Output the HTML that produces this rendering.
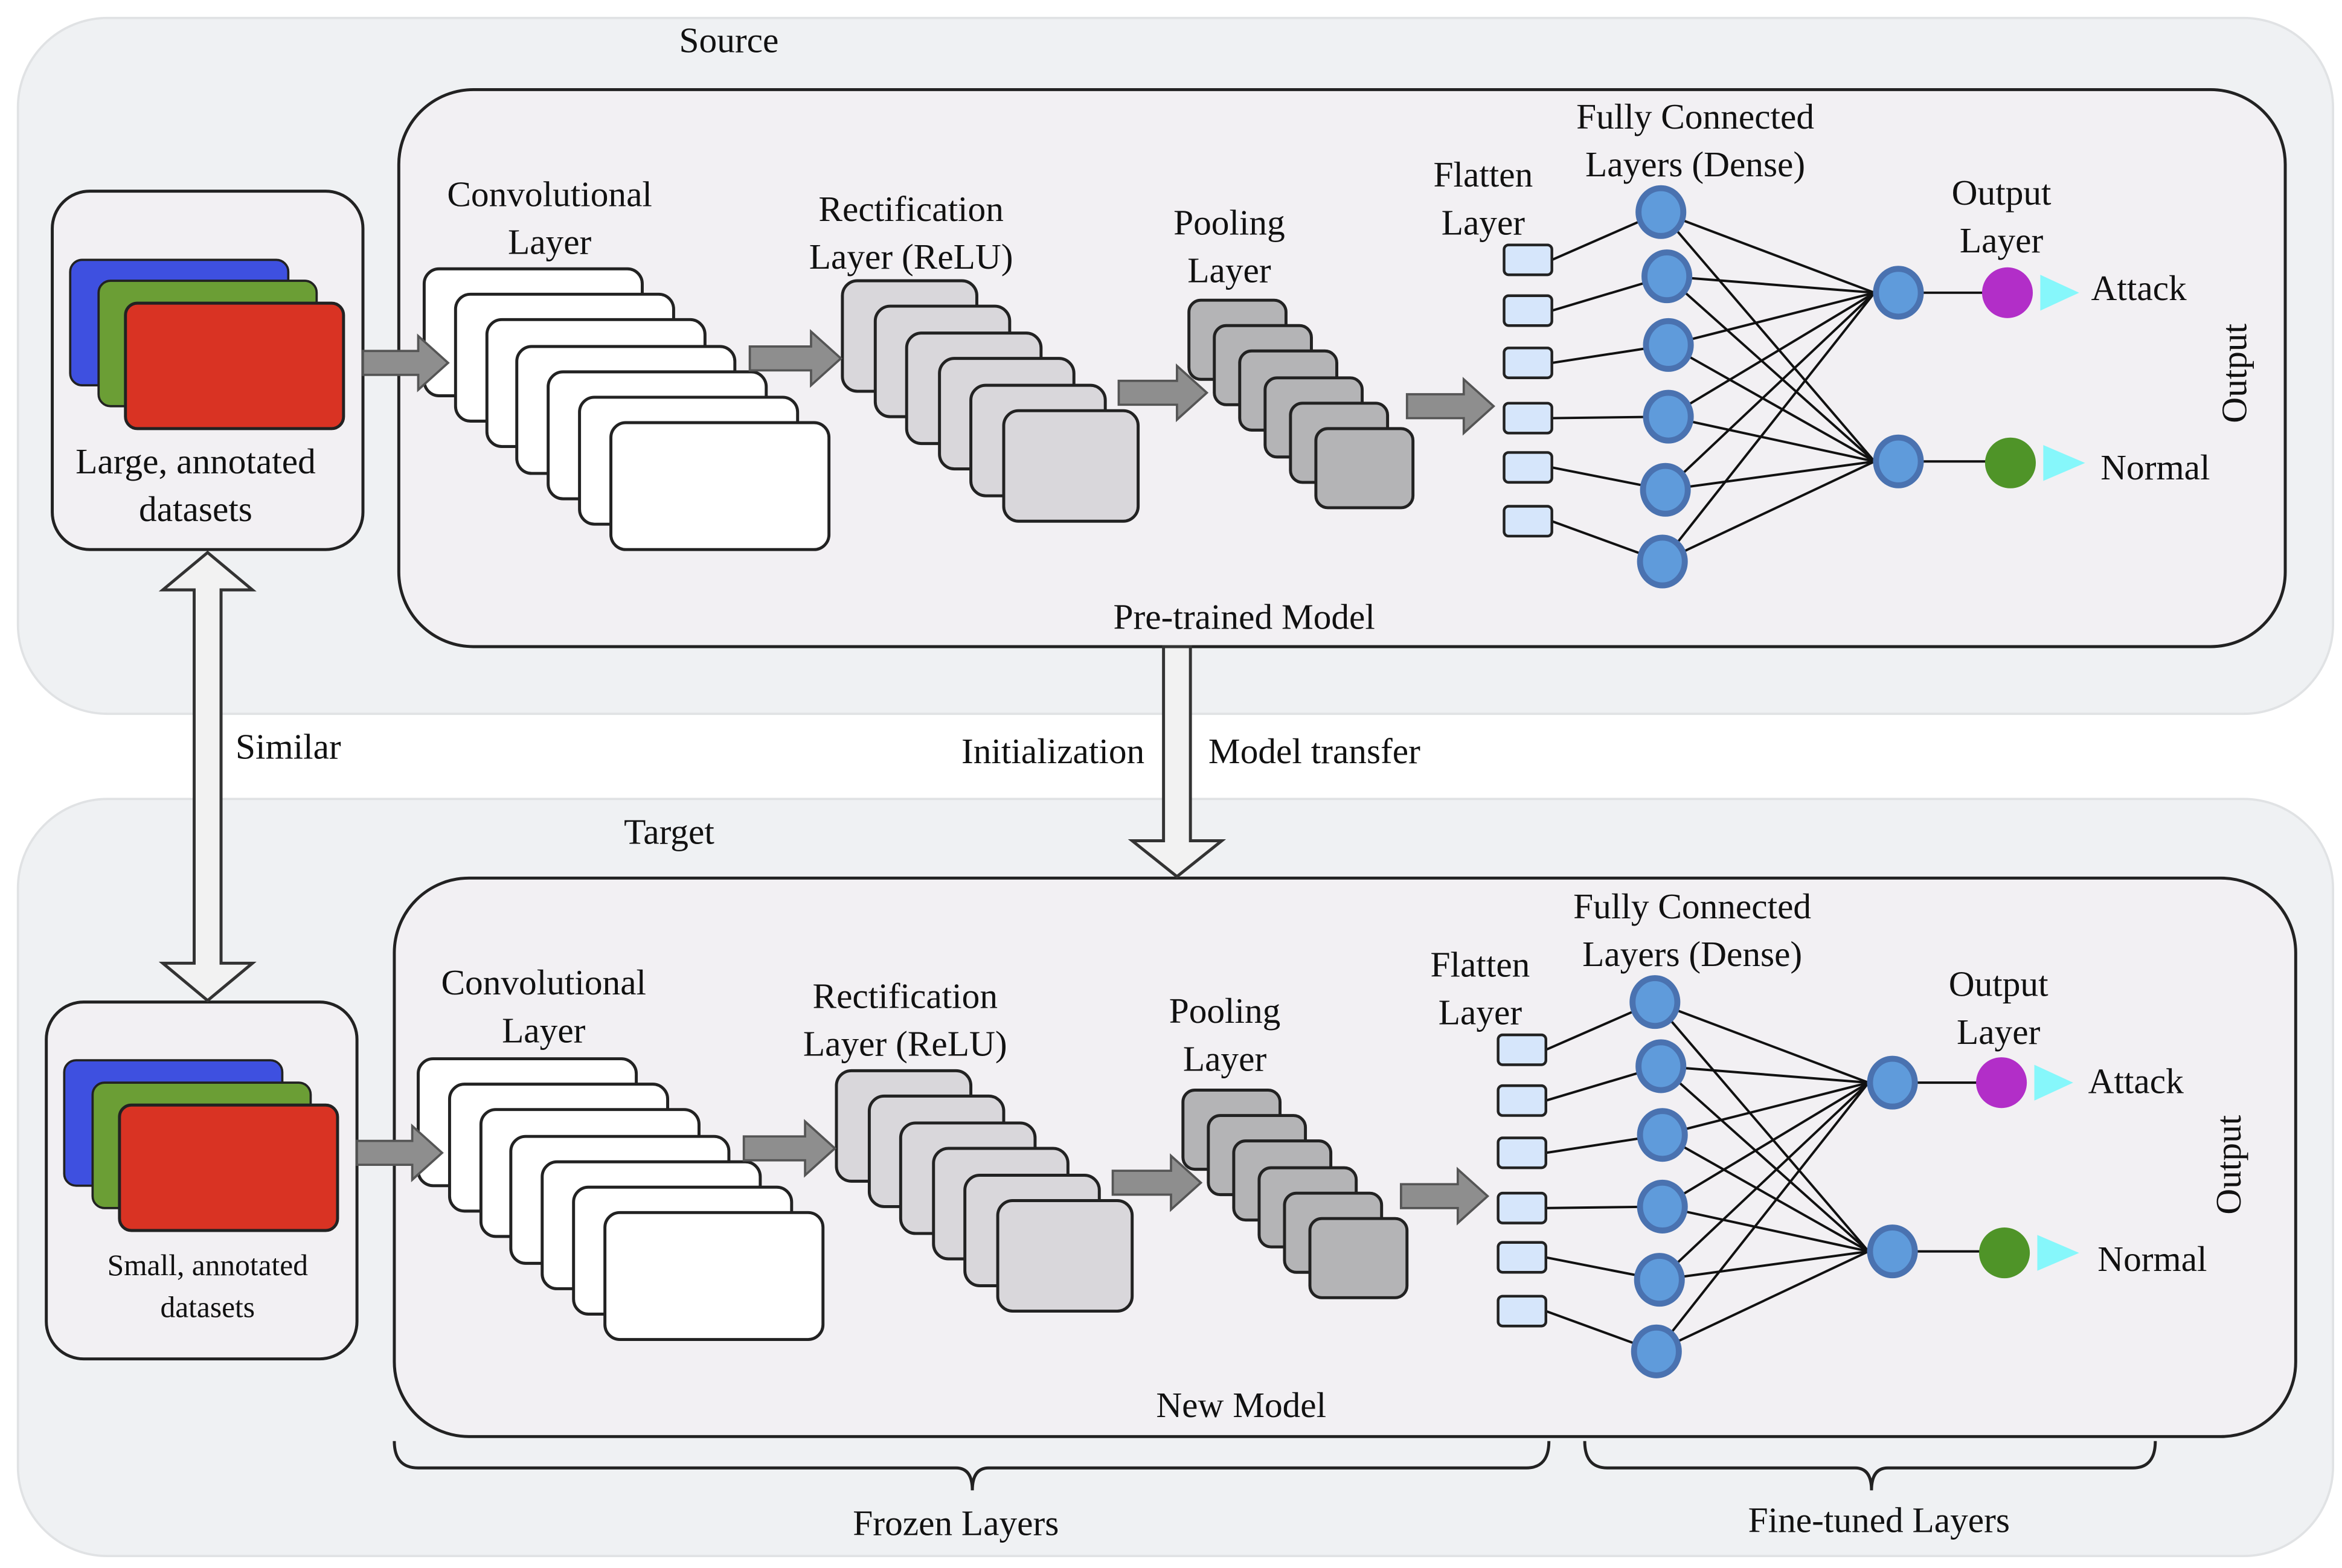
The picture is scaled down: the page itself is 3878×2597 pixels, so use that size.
<!DOCTYPE html>
<html><head><meta charset="utf-8"><style>
html,body{margin:0;padding:0;background:#fff}
svg{display:block}
svg text{font-family:"Liberation Serif","Times New Roman",serif !important;font-size:24px;fill:#111;text-anchor:middle}
</style></head><body>
<svg width="3878" height="2597" viewBox="0 0 1568 1050" xmlns="http://www.w3.org/2000/svg" font-family="Liberation Serif, serif">
<defs>
<g id="model">
  <g fill="#fff" stroke="#222" stroke-width="2">
    <rect x="284" y="180" width="146" height="85" rx="10"/>
    <rect x="305" y="197" width="146" height="85" rx="10"/>
    <rect x="326" y="214" width="146" height="85" rx="10"/>
    <rect x="346" y="232" width="146" height="85" rx="10"/>
    <rect x="367" y="249" width="146" height="85" rx="10"/>
    <rect x="388" y="266" width="146" height="85" rx="10"/>
    <rect x="409" y="283" width="146" height="85" rx="10"/>
  </g>
  <g fill="#d9d7db" stroke="#222" stroke-width="2">
    <rect x="564" y="188" width="90" height="74" rx="10"/>
    <rect x="586" y="205" width="90" height="74" rx="10"/>
    <rect x="607" y="223" width="90" height="74" rx="10"/>
    <rect x="629" y="240" width="90" height="74" rx="10"/>
    <rect x="650" y="258" width="90" height="74" rx="10"/>
    <rect x="672" y="275" width="90" height="74" rx="10"/>
  </g>
  <g fill="#b4b4b6" stroke="#222" stroke-width="2">
    <rect x="796" y="201" width="65" height="53" rx="8"/>
    <rect x="813" y="218" width="65" height="53" rx="8"/>
    <rect x="830" y="235" width="65" height="53" rx="8"/>
    <rect x="847" y="253" width="65" height="53" rx="8"/>
    <rect x="864" y="270" width="65" height="53" rx="8"/>
    <rect x="881" y="287" width="65" height="53" rx="8"/>
  </g>
  <g fill="#8e8e8e" stroke="#555" stroke-width="1.5">
    <polygon points="243,235 280,235 280,225 300,243 280,261 280,251 243,251"/>
    <polygon points="502,232 543,232 543,222 563,240 543,258 543,248 502,248"/>
    <polygon points="749,255 788,255 788,245 808,263 788,281 788,271 749,271"/>
    <polygon points="942,264 980,264 980,254 1000,272 980,290 980,280 942,280"/>
  </g>
  <g stroke="#111" stroke-width="1.6">
    <line x1="1039" y1="174" x2="1112" y2="142"/>
    <line x1="1039" y1="208" x2="1116" y2="185"/>
    <line x1="1039" y1="243" x2="1117" y2="231"/>
    <line x1="1039" y1="280" x2="1117" y2="279"/>
    <line x1="1039" y1="313" x2="1115" y2="328"/>
    <line x1="1039" y1="349" x2="1113" y2="376"/>
    <line x1="1112" y1="142" x2="1255" y2="196"/><line x1="1112" y1="142" x2="1255" y2="309"/>
    <line x1="1116" y1="185" x2="1255" y2="196"/><line x1="1116" y1="185" x2="1255" y2="309"/>
    <line x1="1117" y1="231" x2="1255" y2="196"/><line x1="1117" y1="231" x2="1255" y2="309"/>
    <line x1="1117" y1="279" x2="1255" y2="196"/><line x1="1117" y1="279" x2="1255" y2="309"/>
    <line x1="1115" y1="328" x2="1255" y2="196"/><line x1="1115" y1="328" x2="1255" y2="309"/>
    <line x1="1113" y1="376" x2="1255" y2="196"/><line x1="1113" y1="376" x2="1255" y2="309"/>
    <line x1="1287" y1="196" x2="1328" y2="196"/>
    <line x1="1287" y1="309" x2="1330" y2="309"/>
  </g>
  <g fill="#d6e6fb" stroke="#222" stroke-width="1.8">
    <rect x="1007" y="164" width="32" height="20" rx="3"/>
    <rect x="1007" y="198" width="32" height="20" rx="3"/>
    <rect x="1007" y="233" width="32" height="20" rx="3"/>
    <rect x="1007" y="270" width="32" height="20" rx="3"/>
    <rect x="1007" y="303" width="32" height="20" rx="3"/>
    <rect x="1007" y="339" width="32" height="20" rx="3"/>
  </g>
  <g fill="#5f9bdb" stroke="#4a72b0" stroke-width="4">
    <ellipse cx="1112" cy="142" rx="15" ry="16"/>
    <ellipse cx="1116" cy="185" rx="15" ry="16"/>
    <ellipse cx="1117" cy="231" rx="15" ry="16"/>
    <ellipse cx="1117" cy="279" rx="15" ry="16"/>
    <ellipse cx="1115" cy="328" rx="15" ry="16"/>
    <ellipse cx="1113" cy="376" rx="15" ry="16"/>
    <ellipse cx="1271" cy="196" rx="15" ry="16"/>
    <ellipse cx="1271" cy="309" rx="15" ry="16"/>
  </g>
  <ellipse cx="1344" cy="196" rx="17" ry="17" fill="#b22ec8"/>
  <ellipse cx="1346" cy="310" rx="17" ry="17" fill="#4f9428"/>
  <polygon points="1366,184 1392,196 1366,208" fill="#86f7fb"/>
  <polygon points="1368,298 1396,310 1368,322" fill="#86f7fb"/>
</g>
</defs>

<rect x="12" y="12" width="1550" height="466" rx="60" fill="#eff1f3" stroke="#e0e2e4" stroke-width="1.5"/>
<text x="488" y="35">Source</text>
<rect x="267" y="60" width="1263" height="373" rx="50" fill="#f2f0f3" stroke="#222" stroke-width="2"/>
<rect x="35" y="128" width="208" height="240" rx="25" fill="#f2f0f3" stroke="#222" stroke-width="2"/>
<rect x="47" y="174" width="146" height="84" rx="8" fill="#3e50e0" stroke="#222" stroke-width="1.5"/>
<rect x="66" y="188" width="146" height="84" rx="8" fill="#6b9e35" stroke="#222" stroke-width="1.5"/>
<rect x="84" y="203" width="146" height="84" rx="8" fill="#d93323" stroke="#222" stroke-width="2"/>
<text x="131" y="317">Large, annotated</text>
<text x="131" y="349">datasets</text>
<use href="#model"/>
<text x="368" y="138">Convolutional</text><text x="368" y="170">Layer</text>
<text x="610" y="148">Rectification</text><text x="610" y="180">Layer (ReLU)</text>
<text x="823" y="157">Pooling</text><text x="823" y="189">Layer</text>
<text x="993" y="125">Flatten</text><text x="993" y="157">Layer</text>
<text x="1135" y="86">Fully Connected</text><text x="1135" y="118">Layers (Dense)</text>
<text x="1340" y="137">Output</text><text x="1340" y="169">Layer</text>
<text x="1432" y="201">Attack</text>
<text x="1443" y="321">Normal</text>
<text transform="translate(1504,250) rotate(-90)">Output</text>
<text x="833" y="421">Pre-trained Model</text>

<rect x="12" y="535" width="1550" height="507" rx="60" fill="#eff1f3" stroke="#e0e2e4" stroke-width="1.5"/>
<text x="448" y="565">Target</text>
<rect x="264" y="588" width="1273" height="374" rx="50" fill="#f2f0f3" stroke="#222" stroke-width="2"/>
<rect x="31" y="671" width="208" height="239" rx="25" fill="#f2f0f3" stroke="#222" stroke-width="2"/>
<rect x="43" y="710" width="146" height="84" rx="8" fill="#3e50e0" stroke="#222" stroke-width="1.5"/>
<rect x="62" y="725" width="146" height="84" rx="8" fill="#6b9e35" stroke="#222" stroke-width="1.5"/>
<rect x="80" y="740" width="146" height="84" rx="8" fill="#d93323" stroke="#222" stroke-width="2"/>
<text x="139" y="854" style="font-size:20px">Small, annotated</text>
<text x="139" y="882" style="font-size:20px">datasets</text>
<g transform="translate(-4,529)"><use href="#model"/></g>
<text x="364" y="666">Convolutional</text><text x="364" y="698">Layer</text>
<text x="606" y="675">Rectification</text><text x="606" y="707">Layer (ReLU)</text>
<text x="820" y="685">Pooling</text><text x="820" y="717">Layer</text>
<text x="991" y="654">Flatten</text><text x="991" y="686">Layer</text>
<text x="1133" y="615">Fully Connected</text><text x="1133" y="647">Layers (Dense)</text>
<text x="1338" y="667">Output</text><text x="1338" y="699">Layer</text>
<text x="1430" y="732">Attack</text>
<text x="1441" y="851">Normal</text>
<text transform="translate(1500,780) rotate(-90)">Output</text>
<text x="831" y="949">New Model</text>

<polygon points="139,370 169,395 148,395 148,645 169,645 139,670 109,645 130,645 130,395 109,395" fill="#f2f2f2" stroke="#333" stroke-width="2"/>
<text x="193" y="508">Similar</text>
<polygon points="779,433 797,433 797,563 818,563 788,587 758,563 779,563" fill="#f2f2f2" stroke="#333" stroke-width="2"/>
<text x="705" y="511">Initialization</text>
<text x="880" y="511">Model transfer</text>

<path d="M264,965 Q264,983 280,983 L640,983 Q651,983 651,998 Q651,983 662,983 L1022,983 Q1037,983 1037,965" fill="none" stroke="#222" stroke-width="2"/>
<path d="M1061,965 Q1061,983 1076,983 L1242,983 Q1253,983 1253,998 Q1253,983 1264,983 L1428,983 Q1443,983 1443,965" fill="none" stroke="#222" stroke-width="2"/>
<text x="640" y="1028">Frozen Layers</text>
<text x="1258" y="1026">Fine-tuned Layers</text>
</svg>
</body></html>
